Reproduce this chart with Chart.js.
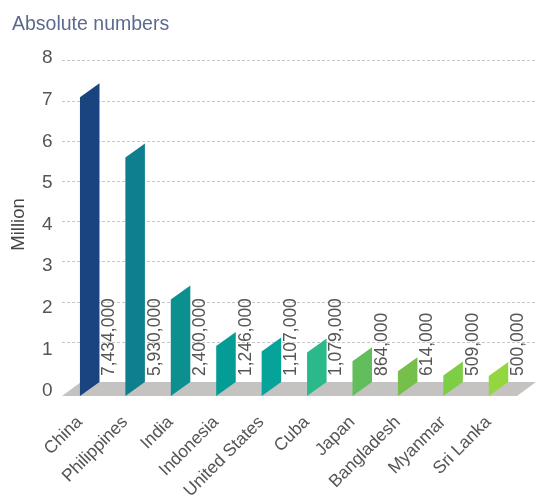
<!DOCTYPE html>
<html>
<head>
<meta charset="utf-8">
<title>Absolute numbers</title>
<script src="https://cdn.jsdelivr.net/npm/chart.js@4"></script>
<style>
  html, body { margin: 0; padding: 0; background: #fff; }
  #wrap { position: relative; width: 536px; height: 497px; }
</style>
</head>
<body>
<div id="wrap"><canvas id="chart"></canvas></div>
<script>
const countries = ["China", "Philippines", "India", "Indonesia", "United States", "Cuba", "Japan", "Bangladesh", "Myanmar", "Sri Lanka"];
const migrants = [7434000, 5930000, 2400000, 1246000, 1107000, 1079000, 864000, 614000, 509000, 500000];
const barColors = ["#1a4480", "#0e7f8e", "#0c8f8f", "#069c96", "#05a39a", "#2bb98b", "#62bd5c", "#76bf4a", "#7dce45", "#93d63f"];

const textColor = "#555";
const fontName = "'Liberation Sans', Arial, sans-serif";
const depthY = 14;   // how far the floor and bar feet drop towards the viewer

// grey floor, dashed grid and the y labels, all hung on the y scale
const backdrop = {
  id: "backdrop",
  beforeDatasetsDraw(chart) {
    const { ctx } = chart;
    const y = chart.scales.y;
    const base = y.getPixelForValue(0);

    ctx.save();
    ctx.strokeStyle = "#c6c6c6";
    ctx.lineWidth = 1;
    ctx.setLineDash([3, 2]);
    y.ticks.forEach(t => {
      if (t.value === 0) return;
      const py = Math.round(y.getPixelForValue(t.value)) + 0.5;
      ctx.beginPath();
      ctx.moveTo(62, py);
      ctx.lineTo(536, py);
      ctx.stroke();
    });
    ctx.restore();

    ctx.save();
    ctx.fillStyle = "#c4c3c1";
    ctx.beginPath();
    ctx.moveTo(62, base + depthY);
    ctx.lineTo(517, base + depthY);
    ctx.lineTo(536, base);
    ctx.lineTo(81, base);
    ctx.closePath();
    ctx.fill();
    ctx.restore();

    // the labels in the original sit a little off their grid lines, more so near 0
    ctx.save();
    ctx.fillStyle = textColor;
    ctx.font = "19px " + fontName;
    ctx.textAlign = "right";
    ctx.textBaseline = "middle";
    y.ticks.forEach(t => {
      const m = t.value / 1000000;
      ctx.fillText(t.label, 52.5, y.getPixelForValue(t.value) + 9 - 1.4 * m);
    });
    ctx.translate(19, 224.5);
    ctx.rotate(-Math.PI / 2);
    ctx.textAlign = "center";
    ctx.font = "18.5px " + fontName;
    ctx.fillStyle = "#444";
    ctx.fillText("Million", 0, 0);
    ctx.restore();
  }
};

// bars are the normal elements, just sheared around the right foot
const skewBars = {
  id: "skewBars",
  beforeDatasetDraw(chart, args) {
    const { ctx } = chart;
    args.meta.data.forEach(bar => {
      const { x, width } = bar.getProps(["x", "width"]);
      const right = x + width / 2;
      const k = -depthY / width;
      ctx.save();
      ctx.transform(1, k, 0, 1, 0, -k * right);
      bar.draw(ctx);
      ctx.restore();
    });
    return false;
  },
  afterDatasetsDraw(chart) {
    const { ctx } = chart;
    const meta = chart.getDatasetMeta(0);
    const base = chart.scales.y.getPixelForValue(0);
    ctx.save();
    ctx.fillStyle = textColor;
    ctx.font = "17.5px " + fontName;
    ctx.textAlign = "left";
    ctx.textBaseline = "middle";
    meta.data.forEach((bar, i) => {
      ctx.save();
      ctx.translate(bar.x + bar.width / 2 + 10, base - 6);
      ctx.rotate(-Math.PI / 2);
      ctx.fillText(migrants[i].toLocaleString("en-US"), 0, 0);
      ctx.restore();
    });
    ctx.restore();
  }
};

new Chart(document.getElementById("chart"), {
  type: "bar",
  data: {
    labels: countries,
    datasets: [{
      data: migrants,
      backgroundColor: barColors,
      categoryPercentage: 1,
      barPercentage: 0.43
    }]
  },
  options: {
    responsive: true,
    maintainAspectRatio: false,
    animation: false,
    layout: { padding: { left: 12, right: 13, top: 13, bottom: 0 } },
    plugins: {
      legend: { display: false },
      tooltip: { enabled: false },
      title: {
        display: true,
        text: "Absolute numbers",
        align: "start",
        color: "#5b6b8e",
        font: { family: fontName, size: 19.5, weight: "normal" },
        padding: { top: 0, bottom: 24 }
      }
    },
    scales: {
      x: {
        grid: { display: false },
        border: { display: false },
        afterFit(scale) { scale.height = 115; },
        ticks: {
          autoSkip: false,
          minRotation: 45,
          maxRotation: 45,
          padding: 22,
          labelOffset: -10,
          color: textColor,
          font: { family: fontName, size: 17.5 }
        }
      },
      y: {
        min: 0,
        max: 8000000,
        grid: { display: false },
        border: { display: false },
        afterFit(scale) { scale.width = 55; },
        ticks: {
          display: false,
          stepSize: 1000000,
          callback: v => v / 1000000
        }
      }
    }
  },
  plugins: [backdrop, skewBars]
});
</script>
</body>
</html>
